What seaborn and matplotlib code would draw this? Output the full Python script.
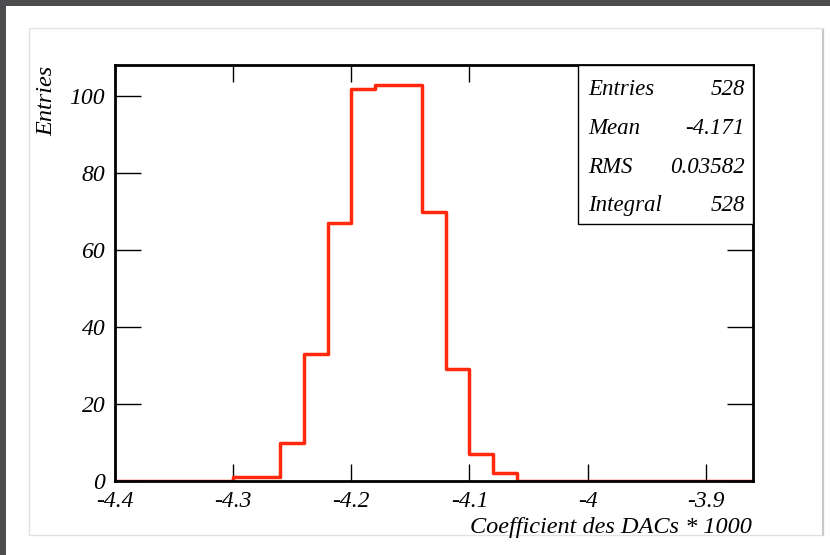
import numpy as np
import pandas as pd
import matplotlib
matplotlib.use("Agg")
import matplotlib.pyplot as plt
import seaborn as sns
from matplotlib.patches import Rectangle

# ---- data ----
bin_edges = [round(-4.40 + 0.02 * i, 2) for i in range(28)]   # -4.40 .. -3.86
counts = [0, 0, 0, 0, 0,
          1, 1, 10, 33, 67, 102, 103, 103, 70, 29, 7, 2,
          0, 0, 0, 0, 0, 0, 0, 0, 0, 0]
x_ticks = [-4.4, -4.3, -4.2, -4.1, -4.0, -3.9]
x_ticklabels = ["-4.4", "-4.3", "-4.2", "-4.1", "-4", "-3.9"]
y_ticks = [0, 20, 40, 60, 80, 100]
stats_names = ["Entries", "Mean", "RMS", "Integral"]
stats_values = ["528", "-4.171", "0.03582", "528"]
x_label = "Coefficient des DACs * 1000"
y_label = "Entries"

centers = [(bin_edges[i] + bin_edges[i + 1]) / 2 for i in range(len(counts))]
df = pd.DataFrame({"x": centers, "w": counts})

sns.set_theme(style="white")
plt.rcParams["font.family"] = ["Liberation Serif", "DejaVu Serif"]

W, H = 830, 555
fig = plt.figure(figsize=(W / 100, H / 100), dpi=100, facecolor="#4d4d4f")

# white canvas
fig.patches.append(Rectangle((6 / W, 0), 1 - 6 / W, 1 - 6 / H, transform=fig.transFigure,
                             facecolor="white", edgecolor="none", zorder=-3))
# inner pad frame
fig.patches.append(Rectangle((29 / W, 1 - 535 / H), (823 - 29) / W, (535 - 28) / H,
                             transform=fig.transFigure, facecolor="white",
                             edgecolor="#e2e2e2", linewidth=1.0, zorder=-2))
fig.lines.append(plt.Line2D([823 / W, 823 / W], [1 - 535 / H, 1 - 30 / H],
                            transform=fig.transFigure, color="#c8c8c8", linewidth=1.5,
                            zorder=-1))

ax = fig.add_axes([115 / W, 1 - 481 / H, (753 - 115) / W, (481 - 65) / H])
ax.set_facecolor("white")

sns.histplot(data=df, x="x", weights="w", bins=bin_edges, element="step",
             fill=False, color="#ff2a0d", linewidth=2.5, ax=ax)

ax.set_xlim(-4.40, -3.86)
ax.set_ylim(0, 108.15)

ax.set_xticks(x_ticks)
ax.set_xticklabels(x_ticklabels)
ax.set_yticks(y_ticks)
ax.set_yticklabels([str(v) for v in y_ticks])

for side in ["left", "right", "top", "bottom"]:
    ax.spines[side].set_visible(True)
    ax.spines[side].set_color("black")
    ax.spines[side].set_linewidth(2.0)

ax.tick_params(axis="x", which="major", direction="in", length=12, width=1.0,
               top=True, bottom=True, labelsize=17, pad=7, color="black")
ax.tick_params(axis="y", which="major", direction="in", length=19, width=1.0,
               left=True, right=True, labelsize=17, pad=7, color="black")
for lab in ax.get_xticklabels() + ax.get_yticklabels():
    lab.set_fontstyle("italic")
    lab.set_color("black")

ax.set_xlabel("")
ax.set_ylabel("")
fig.text(752 / W, 1 - 533 / H, x_label, ha="right", va="baseline",
         fontsize=17.5, fontstyle="italic", color="black")
fig.text(47 / W, 1 - 66 / H, y_label, ha="center", va="top", rotation=90,
         fontsize=17.5, fontstyle="italic", color="black")

# stats box
bx0, by0 = 578, 65
bx1, by1 = 753, 224
fig.patches.append(Rectangle((bx0 / W, 1 - by1 / H), (bx1 - bx0) / W, (by1 - by0) / H,
                             transform=fig.transFigure, facecolor="white",
                             edgecolor="black", linewidth=1.0, zorder=5))
rows_y = [95, 134, 173, 211]
for name, val, yy in zip(stats_names, stats_values, rows_y):
    fig.text(588 / W, 1 - yy / H, name, ha="left", va="baseline", fontsize=16.5,
             fontstyle="italic", color="black", zorder=6)
    fig.text(745 / W, 1 - yy / H, val, ha="right", va="baseline", fontsize=16.5,
             fontstyle="italic", color="black", zorder=6)

fig.savefig("out.png", dpi=100, facecolor=fig.get_facecolor())
